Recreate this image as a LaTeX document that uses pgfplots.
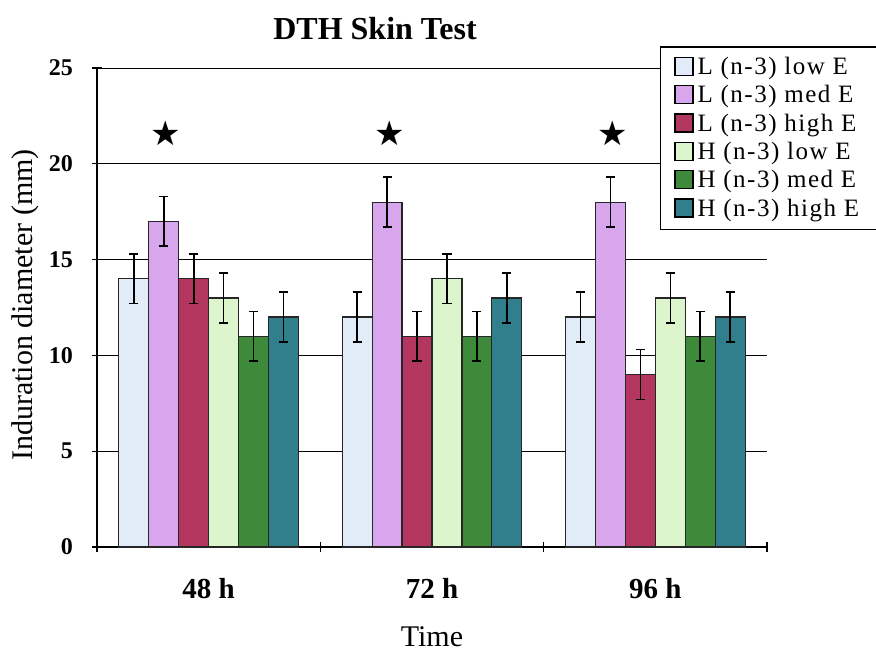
\documentclass[border=0pt]{standalone}
\usepackage{pgfplots}
\pgfplotsset{compat=1.18}
\usepackage{pgfplotstable}
\usepackage{fontspec}
\setmainfont{Liberation Serif}
\newfontfamily\symfont{DejaVu Sans}
\newfontfamily\legfont[LetterSpace=6]{Liberation Serif}
\definecolor{clow}{HTML}{E2EBF8}
\definecolor{cmed}{HTML}{D8A6EC}
\definecolor{chigh}{HTML}{B2365E}
\definecolor{hlow}{HTML}{DDF5CC}
\definecolor{hmed}{HTML}{3D8B3A}
\definecolor{hhigh}{HTML}{317E8C}

\pgfplotstableread{
x y e
0 14 1.3
1 12 1.3
2 12 1.3
}\Llow
\pgfplotstableread{
x y e
0 17 1.3
1 18 1.3
2 18 1.3
}\Lmed
\pgfplotstableread{
x y e
0 14 1.3
1 11 1.3
2 9 1.3
}\Lhigh
\pgfplotstableread{
x y e
0 13 1.3
1 14 1.3
2 13 1.3
}\Hlow
\pgfplotstableread{
x y e
0 11 1.3
1 11 1.3
2 11 1.3
}\Hmed
\pgfplotstableread{
x y e
0 12 1.3
1 13 1.3
2 12 1.3
}\Hhigh

\pgfplotsset{
  mybar/.style={bar shift=#1, draw=black!85, line width=0.6pt,
    error bars/y dir=both, error bars/y explicit,
    error bars/error bar style={black, line width=0.8pt},
    error bars/error mark options={rotate=90, mark size=2.3pt, line width=0.8pt}},
  geom/.style={at={(48.5pt,54pt)}, anchor=south west,
    scale only axis, width=335pt, height=239.5pt,
    xmin=-0.5, xmax=2.5, ymin=0, ymax=25},
}

\begin{document}
\begin{tikzpicture}
\path[use as bounding box] (0,0) rectangle (438pt,327.5pt);
\begin{axis}[
  geom,
  ybar=0pt, bar width=0.134,
  axis x line*=bottom, axis y line*=left,
  axis line style={black, line width=0.6pt},
  ytick={0,5,...,25},
  ymajorgrids, grid style={black, line width=0.5pt},
  ytick style={black, line width=0.6pt},
  tick align=center, major tick length=5pt,
  xtick={-0.5,0.5,1.5,2.5}, xticklabels={},
  xtick style={black, line width=0.6pt},
  extra x ticks={0,1,2},
  extra x tick labels={48 h,72 h,96 h},
  extra x tick style={major tick length=0pt, xticklabel style={font=\bfseries\fontsize{14.5}{14.5}\selectfont, anchor=base, yshift=-25.5pt}},
  /pgf/number format/assume math mode=true,
  yticklabel style={font=\bfseries\fontsize{12}{12}\selectfont, xshift=-6pt},
  ylabel={Induration diameter (mm)},
  ylabel style={font=\fontsize{15}{15}\selectfont, at={(axis description cs:-0.107,0.505)}, anchor=center},
  xlabel={Time},
  xlabel style={font=\fontsize{15}{15}\selectfont, at={(axis description cs:0.5,-0.208)}, anchor=base},
  legend style={at={(axis description cs:0.84,1.045)}, anchor=north west,
    draw=black, line width=0.6pt, font=\legfont\fontsize{12.5}{13.5}\selectfont,
    inner xsep=7pt, inner ysep=3pt, row sep=0pt, cells={anchor=west}},
  legend image code/.code={\draw[#1, draw=black, line width=0.6pt] (0pt,-4pt) rectangle (9pt,5pt);},
  clip=false,
]
\addplot[mybar=-0.335, fill=clow] table[x=x, y=y, y error=e] {\Llow};
\addlegendentry{L (n-3) low E}
\addplot[mybar=-0.201, fill=cmed] table[x=x, y=y, y error=e] {\Lmed};
\addlegendentry{L (n-3) med E}
\addplot[mybar=-0.067, fill=chigh] table[x=x, y=y, y error=e] {\Lhigh};
\addlegendentry{L (n-3) high E}
\addplot[mybar=0.067, fill=hlow] table[x=x, y=y, y error=e] {\Hlow};
\addlegendentry{H (n-3) low E}
\addplot[mybar=0.201, fill=hmed] table[x=x, y=y, y error=e] {\Hmed};
\addlegendentry{H (n-3) med E}
\addplot[mybar=0.335, fill=hhigh] table[x=x, y=y, y error=e] {\Hhigh};
\addlegendentry{H (n-3) high E}
\node[font=\bfseries\fontsize{16}{16}\selectfont] at (axis description cs:0.415,1.083) {DTH Skin Test};
\end{axis}
\begin{axis}[geom, hide axis, clip=false]
\addplot[only marks, mark=text, text mark as node=true, text mark={\fontsize{17}{17}\symfont ★}] coordinates {(-0.19,21.6) (0.81,21.6) (1.81,21.6)};
\end{axis}
\end{tikzpicture}
\end{document}
